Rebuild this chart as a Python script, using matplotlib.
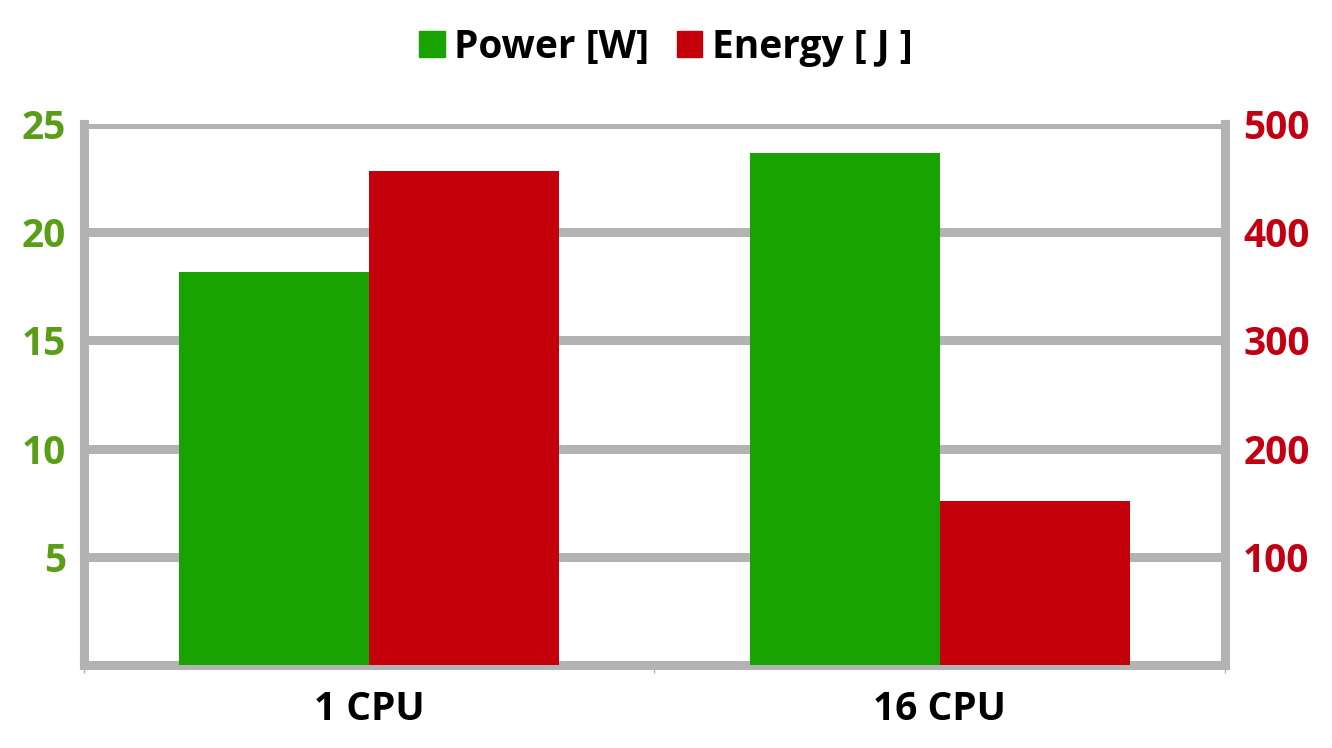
import matplotlib
matplotlib.use("Agg")
import matplotlib.pyplot as plt
import numpy as np
from matplotlib.patches import Patch
from matplotlib.ticker import MultipleLocator

# data
categories = ["1 CPU", "16 CPU"]
power_w = [18.15, 23.65]
energy_j = [456.5, 151.5]

green = "#18a303"
red = "#c4000b"
green_txt = "#5a9e18"
red_txt = "#c20012"
grey = "#b3b3b3"

plt.rcParams['font.family'] = ['Open Sans', 'DejaVu Sans']
plt.rcParams['font.weight'] = 'bold'

fig = plt.figure(figsize=(13.32, 7.48), dpi=100)
ax = fig.add_axes([0.063, 0.111, 0.8567, 0.723])
ax2 = ax.twinx()

x = np.arange(len(categories))
w = 1 / 3
ax.bar(x - w / 2, power_w, width=w, color=green, zorder=3)
ax2.bar(x + w / 2, energy_j, width=w, color=red, zorder=3)

ax.set_xlim(-0.5, 1.5)
ax.set_ylim(0, 25)
ax2.set_ylim(0, 500)

ax.set_yticks([5, 10, 15, 20, 25])
ax2.set_yticks([100, 200, 300, 400, 500])
ax.yaxis.set_minor_locator(MultipleLocator(2.5))
ax2.yaxis.set_minor_locator(MultipleLocator(50))

ax.set_xticks(x)
ax.set_xticklabels(categories)
ax.set_xticks([-0.5, 0.5, 1.5], minor=True)

# grid on the left axes, which sits behind the right one
ax.set_axisbelow(True)
ax.grid(axis='y', color=grey, linewidth=6.5, zorder=0)

for a in (ax, ax2):
    for side in ('left', 'right', 'bottom'):
        a.spines[side].set_color(grey)
        a.spines[side].set_linewidth(6.5)
    a.spines['top'].set_visible(False)
# bottom line only from the back axes so bars sit on top of it
ax2.spines['bottom'].set_visible(False)

ax.tick_params(axis='y', which='major', colors=grey, labelcolor=green_txt,
               labelsize=28, length=3, width=6.5, pad=10)
ax.tick_params(axis='y', which='minor', colors=grey, length=3, width=1)
ax2.tick_params(axis='y', which='major', colors=grey, labelcolor=red_txt,
                labelsize=28, length=3, width=6.5, pad=10)
ax2.tick_params(axis='y', which='minor', colors=grey, length=3, width=1)
ax.tick_params(axis='x', which='major', length=0, labelsize=28, pad=18,
               labelcolor='black')
ax.tick_params(axis='x', which='minor', colors=grey, length=6, width=1)

ax.set_zorder(ax2.get_zorder() - 1)
ax.patch.set_facecolor('white')
ax2.patch.set_visible(False)

handles = [Patch(color=green, label="Power [W]"),
           Patch(color=red, label="Energy [ J ]")]
fig.legend(handles=handles, loc='center', bbox_to_anchor=(0.5, 0.937),
           ncol=2, frameon=False, fontsize=28, handlelength=0.65,
           handleheight=0.65, handletextpad=0.25, columnspacing=0.7)

fig.savefig("out.png", dpi=100)
